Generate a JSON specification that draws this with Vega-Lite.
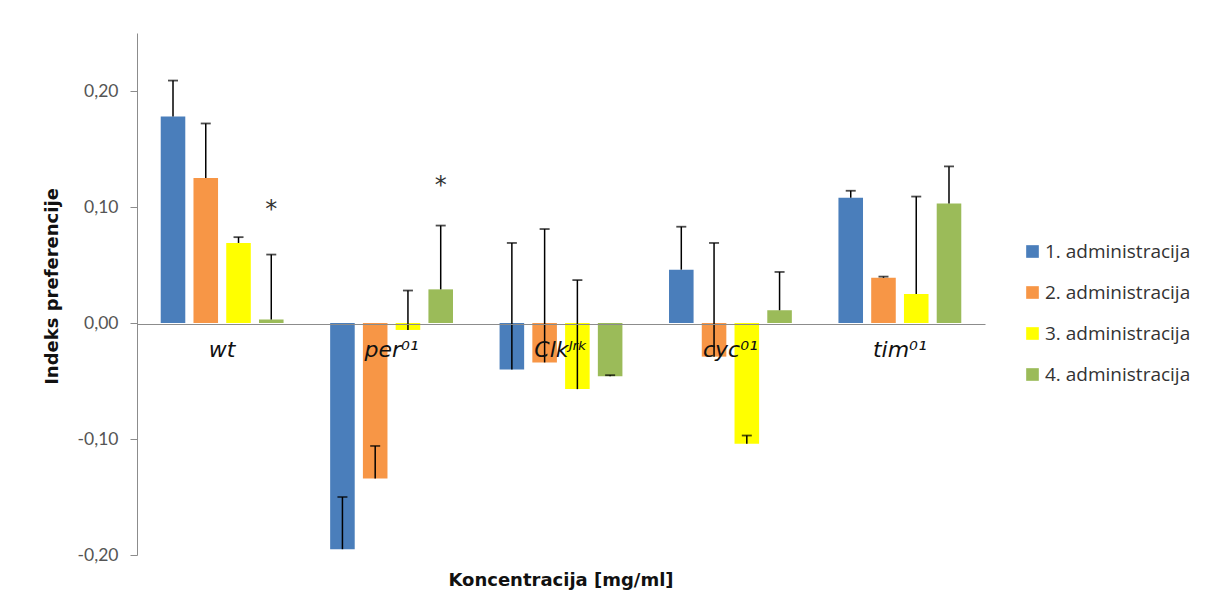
{
  "$schema": "https://vega.github.io/schema/vega-lite/v6.json",
  "autosize": "none",
  "width": 848,
  "height": 522,
  "padding": {"left": 137, "top": 33, "right": 223, "bottom": 55},
  "background": "white",
  "title": {"text": "Koncentracija [mg/ml]", "orient": "bottom", "anchor": "middle", "font": "DejaVu Sans", "fontSize": 18, "fontWeight": "bold", "color": "#111111", "offset": 8},
  "config": {"view": {"stroke": null}},
  "data": {"values": [
    {"g": "wt", "a": "1. administracija", "v": 0.178, "hi": 0.209},
    {"g": "wt", "a": "2. administracija", "v": 0.125, "hi": 0.172},
    {"g": "wt", "a": "3. administracija", "v": 0.069, "hi": 0.074},
    {"g": "wt", "a": "4. administracija", "v": 0.003, "hi": 0.059},
    {"g": "per⁰¹", "a": "1. administracija", "v": -0.195, "hi": -0.150},
    {"g": "per⁰¹", "a": "2. administracija", "v": -0.134, "hi": -0.106},
    {"g": "per⁰¹", "a": "3. administracija", "v": -0.006, "hi": 0.028},
    {"g": "per⁰¹", "a": "4. administracija", "v": 0.029, "hi": 0.084},
    {"g": "Clkᴶʳᵏ", "a": "1. administracija", "v": -0.040, "hi": 0.069},
    {"g": "Clkᴶʳᵏ", "a": "2. administracija", "v": -0.034, "hi": 0.081},
    {"g": "Clkᴶʳᵏ", "a": "3. administracija", "v": -0.057, "hi": 0.037},
    {"g": "Clkᴶʳᵏ", "a": "4. administracija", "v": -0.046, "hi": -0.045},
    {"g": "cyc⁰¹", "a": "1. administracija", "v": 0.046, "hi": 0.083},
    {"g": "cyc⁰¹", "a": "2. administracija", "v": -0.029, "hi": 0.069},
    {"g": "cyc⁰¹", "a": "3. administracija", "v": -0.104, "hi": -0.097},
    {"g": "cyc⁰¹", "a": "4. administracija", "v": 0.011, "hi": 0.044},
    {"g": "tim⁰¹", "a": "1. administracija", "v": 0.108, "hi": 0.114},
    {"g": "tim⁰¹", "a": "2. administracija", "v": 0.039, "hi": 0.040},
    {"g": "tim⁰¹", "a": "3. administracija", "v": 0.025, "hi": 0.109},
    {"g": "tim⁰¹", "a": "4. administracija", "v": 0.103, "hi": 0.135}
  ]},
  "encoding": {
    "x": {"field": "g", "type": "nominal", "sort": null,
      "scale": {"paddingInner": 0.275, "paddingOuter": 0.14},
      "axis": {"title": null, "orient": "bottom", "offset": -231, "ticks": false, "labelAngle": 0,
        "domainColor": "#8c8c8c", "domainWidth": 1.2, "labelFont": "DejaVu Sans", "labelFontSize": 22,
        "labelFontStyle": "italic", "labelColor": "#111111", "labelPadding": 15, "zindex": 2}},
    "xOffset": {"field": "a", "type": "nominal", "scale": {"paddingInner": 0.25, "paddingOuter": 0}}
  },
  "layer": [
    {
      "mark": {"type": "bar"},
      "encoding": {
        "y": {"field": "v", "type": "quantitative",
          "scale": {"domain": [-0.2, 0.25], "nice": false},
          "axis": {"title": "Indeks preferencije", "values": [-0.2, -0.1, 0, 0.1, 0.2], "grid": false,
            "labelExpr": "replace(replace(format(datum.value, '.2f'), '.', ','), '\u2212', '-')",
            "domainColor": "#8c8c8c", "tickColor": "#8c8c8c", "tickSize": 7, "labelPadding": 12,
            "labelFont": "Lato", "labelFontSize": 17.5, "labelColor": "#555555",
            "titleFont": "DejaVu Sans", "titleFontSize": 18, "titleFontWeight": "bold", "titleColor": "#111111", "titlePadding": 16, "titleY": 253}},
        "color": {"field": "a", "type": "nominal",
          "scale": {"range": ["#4a7ebb", "#f79646", "#ffff00", "#9bbb59"]},
          "legend": {"title": null, "orient": "none", "legendX": 886, "legendY": 209,
            "symbolType": "square", "symbolSize": 160, "symbolStrokeWidth": 0,
            "labelFont": "Open Sans", "labelFontSize": 19, "labelColor": "#333333", "rowPadding": 21, "labelOffset": 3}}
      }
    },
    {
      "mark": {"type": "rule", "color": "#000000", "strokeWidth": 1.5},
      "encoding": {"y": {"field": "v", "type": "quantitative"}, "y2": {"field": "hi"}}
    },
    {
      "mark": {"type": "tick", "color": "#000000", "thickness": 1.8, "size": 10, "orient": "horizontal"},
      "encoding": {"y": {"field": "hi", "type": "quantitative"}}
    },
    {
      "data": {"values": [
        {"g": "wt", "a": "4. administracija", "s": 0.103, "t": "*"},
        {"g": "per⁰¹", "a": "4. administracija", "s": 0.123, "t": "*"}
      ]},
      "mark": {"type": "text", "font": "DejaVu Sans", "fontSize": 24, "color": "#333333", "dy": 6},
      "encoding": {"y": {"field": "s", "type": "quantitative"}, "text": {"field": "t"}}
    }
  ]
}
